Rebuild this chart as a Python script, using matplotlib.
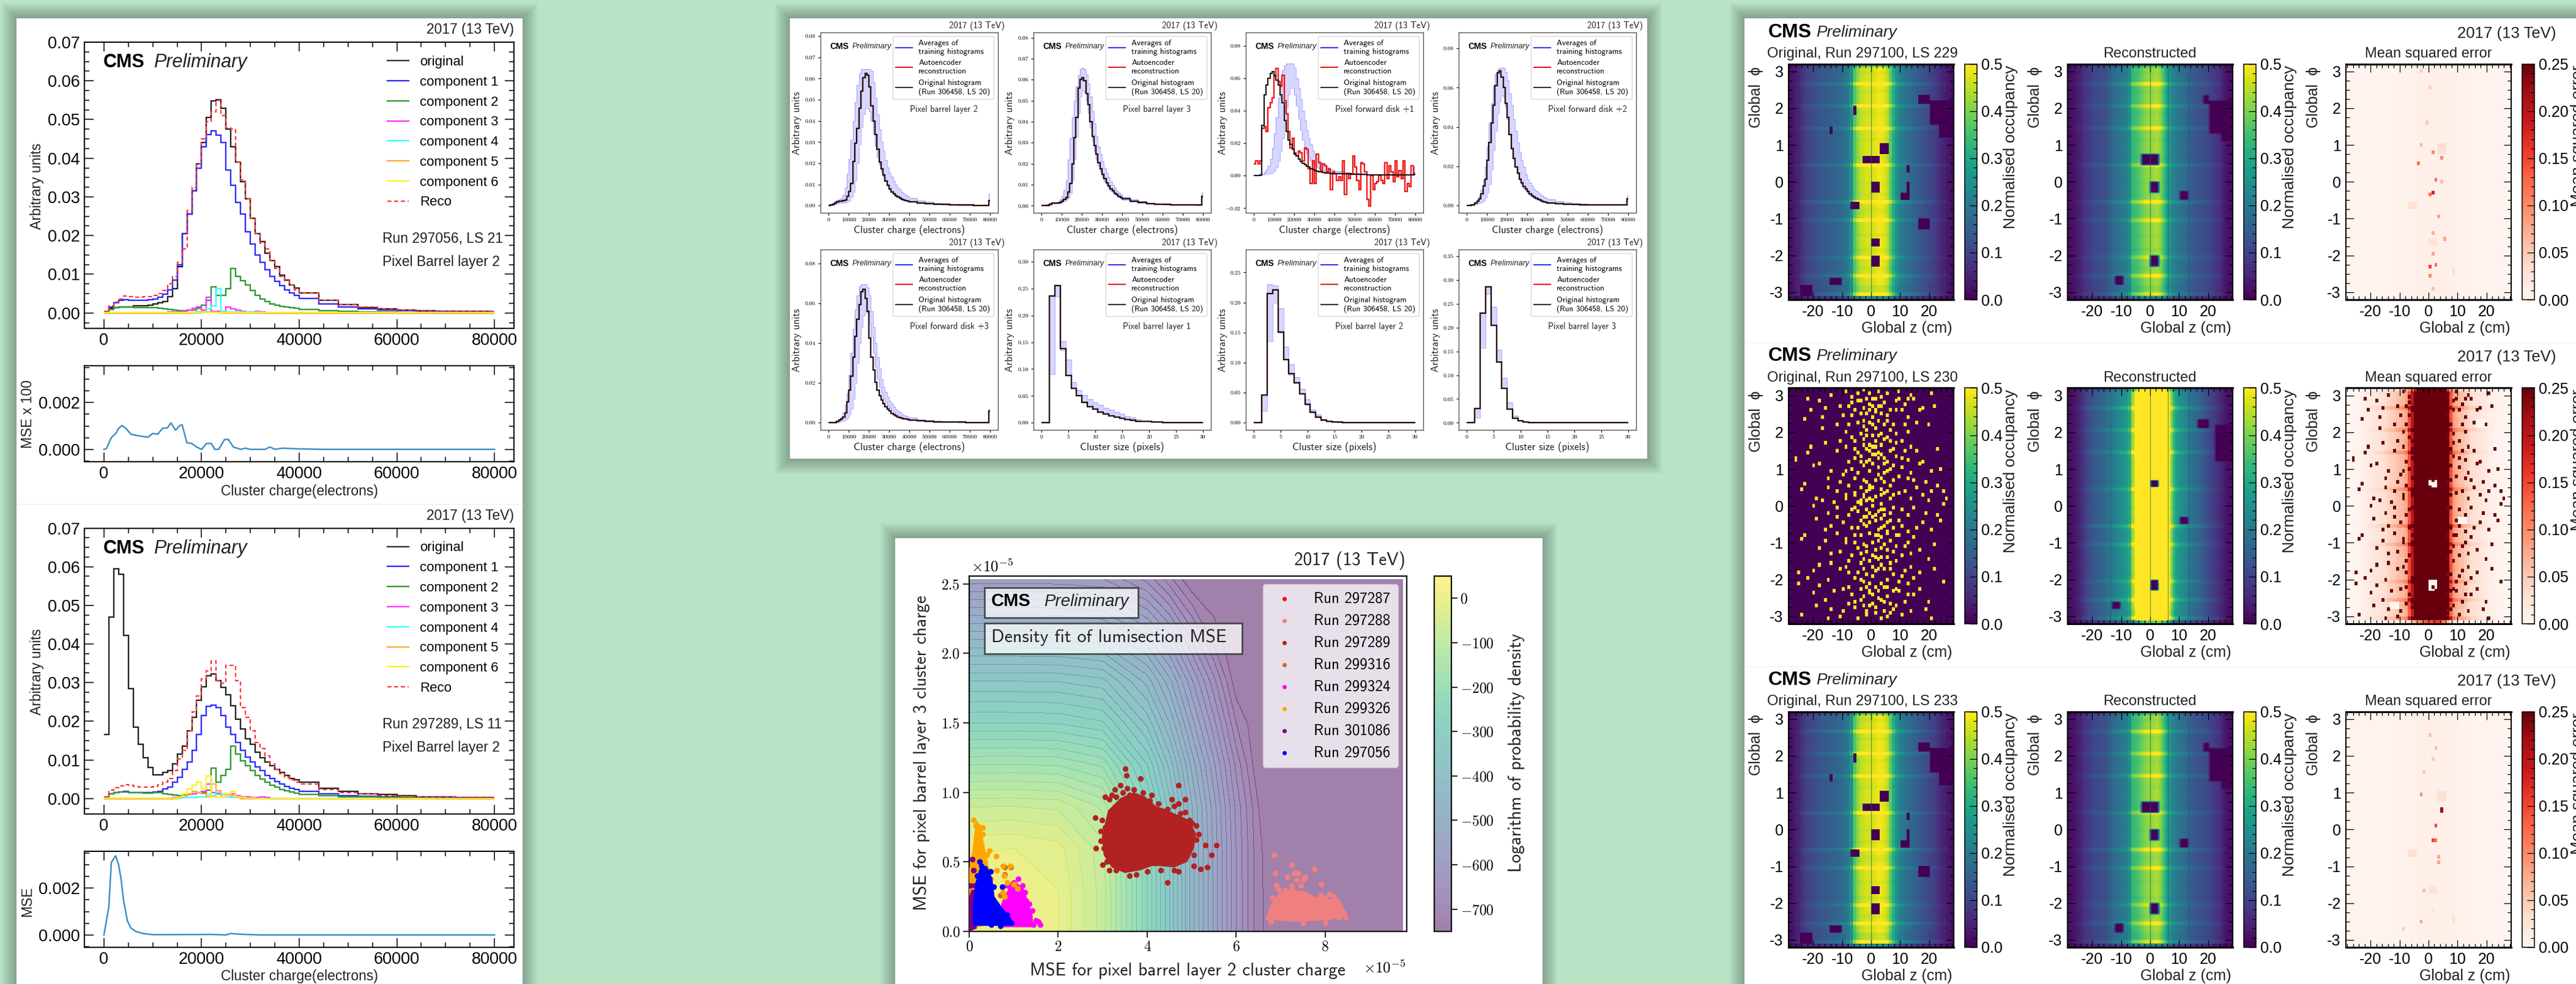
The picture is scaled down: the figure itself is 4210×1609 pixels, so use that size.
import numpy as np
import matplotlib
matplotlib.use("Agg")
import matplotlib.pyplot as plt
from matplotlib.lines import Line2D
from matplotlib.patches import Rectangle
from matplotlib.ticker import MultipleLocator

plt.rcParams['font.family'] = ['Liberation Sans', 'DejaVu Sans']
plt.rcParams['mathtext.fontset'] = 'cm'

W, H = 4210, 1609

# ---------- histogram bins ----------
q_edges = list(range(0, 40000, 1000)) + list(range(40000, 80000, 4000)) + [79500, 80000]
noisy_edges = list(range(0, 81000, 1000))
size_edges = [0] + [k + 0.5 for k in range(1, 30)] + [30]


def pad(vals, n=51):
    return vals + [0] * (n - len(vals))


# ---------- left panels, run 297056 LS 21 ----------
a_orig = [.0003, .0012, .0014, .0015, .0015, .0016, .0018, .0018, .0018, .002, .0023, .0026, .003, .0042, .0062, .012, .0205, .0255, .0315, .0385,
          .044, .0505, .0548, .0552, .053, .0475, .043, .039, .034, .0295, .0245, .0205, .0185, .0155, .0135, .012, .0098, .0085, .0073, .0065,
          .0052, .0032, .0021, .0014, .001, .0008, .0006, .0005, .0004, .0004, .0003]
a_reco = [.0004, .0018, .0028, .0036, .0044, .0042, .0041, .0041, .0042, .0043, .0045, .005, .0058, .0075, .0095, .013, .0165, .0265, .0325, .0385,
          .045, .0495, .052, .055, .051, .0478, .0475, .039, .0345, .0295, .0245, .0205, .018, .0165, .0135, .0115, .0095, .0083, .0073, .006,
          .0052, .0032, .0022, .0015, .001, .0008, .0006, .0005, .0004, .0004, .0003]
a_c1 = [.0002, .0015, .0027, .0033, .0035, .0033, .0032, .0032, .0033, .0035, .0036, .004, .0048, .006, .0085, .0125, .0205, .0255, .0315, .0375,
        .043, .0462, .047, .046, .044, .037, .033, .0285, .0255, .021, .0178, .015, .013, .0112, .0095, .0082, .007, .006, .0052, .0045,
        .0038, .0024, .0016, .0011, .0008, .0006, .0005, .0004, .0003, .0003, .0002]
a_c2 = [.0001, .0009, .0013, .0015, .0016, .0015, .0014, .0014, .0014, .0013, .0013, .0012, .001, .0009, .0008, .0006, .0006, .0007, .0008, .0012,
        .002, .0032, .0068, .0045, .0045, .0063, .0115, .0095, .0083, .0072, .0058, .0045, .0036, .003, .0024, .002, .0017, .0015, .0013, .0012,
        .0009, .0006, .0004, .0003, .0002, .0001, .0001, 0, 0, 0, 0]
a_c3 = pad([0] * 13 + [.0002, .0002, .0003, .0005, .0007, .0012, .0015, .0008, .004, .0005, .0005, .0003, .0015, .001, .0008, .0005, .0003, .0003, .0004, .0003])
a_c4 = pad([0] * 20 + [.0002, .001, .0018, .0062, .0005, .0003, .0002, .0003, .0003, .0002, .0002, .0002])
a_c5 = pad([0] * 18 + [.0001, .0002, .0002, .0002, .0002, .0001])
a_c6 = [.0001] * 51
a_mse_x = [0, 500, 1500, 2500, 3000, 3700, 4500, 5500, 6500, 8000, 9000, 10000, 11000, 12000, 13000, 13700, 14700, 15500, 16000, 17000, 18000, 19000,
           20000, 21000, 22000, 22700, 23500, 24700, 25500, 26500, 28000, 29000, 30000, 33000, 34000, 35000, 36500, 40000, 45000, 80000]
a_mse_y = [0, .00003, .0005, .0007, .0009, .00102, .0009, .00065, .0006, .00055, .00052, .00068, .00065, .0009, .00092, .00113, .00082, .00102, .00105, .00028, .00025, .0001,
           0, .00025, .00025, 0, 0, .00042, .00042, .0001, 0, .00005, 0, 0, .0001, 0, .00005, .00002, 0, 0]

# ---------- left panels, run 297289 LS 11 ----------
b_orig = [.0165, .047, .0595, .058, .0422, .0285, .0185, .014, .0105, .008, .0062, .0062, .0067, .0072, .009, .0115, .0135, .0175, .021, .0255,
          .029, .0318, .0322, .0305, .0288, .0268, .024, .0205, .018, .0155, .014, .012, .0105, .0095, .0085, .0075, .0067, .006, .0052, .0048,
          .0042, .0026, .0018, .0012, .001, .0007, .0005, .0004, .0003, .0003, .0002]
b_reco = [.0005, .0022, .0028, .0033, .0036, .0034, .0032, .003, .003, .003, .0032, .0036, .0043, .0052, .0073, .0102, .0125, .0175, .0225, .0265,
          .031, .033, .0355, .0305, .0298, .0345, .0345, .0305, .0235, .021, .0175, .0145, .013, .011, .009, .0075, .0065, .0055, .0048, .0042,
          .0037, .0024, .0016, .0012, .0008, .0006, .0005, .0004, .0003, .0003, .0002]
b_c1 = [.0002, .0013, .0016, .0017, .0018, .0016, .0015, .0015, .0015, .0016, .0017, .0019, .0025, .003, .0042, .0055, .0075, .0095, .0125, .0165,
        .0215, .0238, .0242, .0235, .0215, .0185, .0165, .0145, .0125, .0108, .0095, .0082, .0072, .006, .0052, .0044, .0038, .0032, .0027, .0024,
        .0018, .0012, .0008, .0006, .0004, .0003, .0002, .0002, .0001, .0001, .0001]
b_c2 = [.0001, .0012, .0015, .0017, .0017, .0016, .0015, .0015, .0014, .0014, .0015, .0015, .0013, .0011, .0009, .0008, .0009, .001, .0012, .0015,
        .0016, .0022, .0078, .0042, .006, .0075, .0135, .0115, .0098, .0085, .0072, .006, .005, .0042, .0035, .003, .0024, .002, .0017, .0014,
        .001, .0007, .0005, .0004, .0003, .0002, .0001, 0, 0, 0, 0]
b_c3 = pad([0] * 14 + [.0002, .0004, .0007, .001, .0012, .0015, .0018, .0038, .0015, .0012, .0005, .001, .0012, .0008, .0005, .0004, .0003, .0003, .0004, .0003])
b_c4 = pad([0] * 14 + [.0001, .0001, .0002, .0002, .0002, .0005, .0005, .001, .0008, .0015, .001, .0005, .0003, .0002])
b_c5 = pad([0] * 15 + [.0003, .0008, .0013, .0018, .0016, .0012, .0005, .0038, .002, .0005, .0012, .0008, .0003])
b_c6 = pad([.0001] * 15 + [.0005, .0012, .0025, .0035, .0042, .0025, .0058, .0005, .0003, .0005, .0012, .0018, .0004, .0002, .0001, .0001])
b_mse_x = [0, 1000, 1500, 2400, 3000, 3500, 4000, 4800, 5500, 6500, 8000, 10000, 22000, 25000, 26000, 27000, 29000, 32000, 80000]
b_mse_y = [0, .0012, .0031, .00339, .003, .0024, .0015, .0006, .0003, .00015, .00006, .00001, .00002, 0, .00006, .00004, .00002, 0, 0]

component_colors = ['#2b2bff', '#2e9a2e', '#ff33ff', '#33ffff', '#ffaa33', '#ffee22']

# ---------- top middle, cluster charge ----------
l2_orig = [0, .0003, .0007, .0012, .0018, .002, .0021, .0024, .0028, .0045, .0068, .0105, .021, .0295, .0365, .046, .054, .0605, .0625, .0615,
           .056, .047, .04, .0335, .0265, .0205, .0175, .0145, .0115, .0095, .008, .0065, .0055, .0048, .004, .0035, .003, .0026, .0023, .002,
           .0018, .0012, .0009, .0007, .0005, .0004, .0003, .0003, .0002, .0002, .0025]
l2_high = [0, .0006, .0012, .002, .0026, .003, .0035, .005, .0085, .015, .022, .031, .04, .049, .057, .0625, .0645, .0645, .0645, .0645,
           .0645, .0635, .058, .051, .043, .036, .03, .026, .0215, .018, .0155, .0135, .0115, .0098, .0085, .0075, .0065, .0057, .005, .0044,
           .0036, .0025, .0017, .0012, .0009, .0007, .0005, .0004, .0003, .0003, .0055]
l2_low = [0, .0001, .0004, .0007, .001, .0012, .0012, .0012, .0014, .0018, .0025, .004, .0065, .012, .02, .029, .037, .043, .046, .046,
          .0445, .04, .034, .028, .023, .019, .016, .0135, .0115, .0095, .0082, .007, .006, .0052, .0045, .004, .0035, .003, .0027, .0024,
          .0018, .0012, .0008, .0006, .0004, .0003, .0002, .0002, .0001, .0001, .002]

l3_orig = [0, 0, 0, .0002, .0007, .0012, .0012, .0012, .0014, .0016, .002, .003, .004, .0065, .0105, .02, .0325, .042, .056, .06,
           .061, .0595, .0535, .048, .04, .033, .0285, .0245, .0205, .0175, .015, .013, .011, .0095, .008, .007, .006, .0052, .0045, .004,
           .0032, .0022, .0015, .0011, .0008, .0006, .0005, .0004, .0003, .0003, .0045]
l3_high = [0, .0003, .0006, .001, .0014, .0014, .0014, .0015, .002, .003, .0045, .0075, .012, .022, .032, .042, .05, .057, .062, .065,
           .0655, .065, .0625, .058, .052, .045, .039, .033, .028, .0245, .021, .018, .0155, .0135, .0115, .0098, .0085, .0072, .0062, .0054,
           .0043, .0029, .002, .0014, .001, .0008, .0006, .0005, .0004, .0003, .0062]
l3_low = [0, 0, 0, .0002, .0005, .001, .001, .001, .0012, .0014, .0017, .002, .0026, .0035, .006, .012, .022, .033, .044, .052,
          .055, .054, .05, .044, .037, .031, .026, .022, .019, .016, .0135, .0115, .0098, .0084, .0072, .0062, .0054, .0047, .004, .0035,
          .0028, .0019, .0013, .0009, .0007, .0005, .0004, .0003, .0003, .0002, .0035]

d1_orig = [0, 0, 0, .0003, .031, .05, .056, .06, .063, .064, .062, .059, .056, .05, .045, .034, .027, .022, .019, .016,
           .013, .012, .01, .0085, .0075, .0065, .0055, .005, .0042, .0035, .003, .0025, .0022, .002, .0018, .0015, .0014, .0013, .0012, .0012,
           .0012, .0009, .0007, .0005, .0004, .0003, .0003, .0002, .0002, .0002, .0005]
d1_high = [0, 0, 0, 0, .001, .002, .0035, .006, .01, .017, .026, .036, .048, .058, .065, .068, .069, .069, .069, .069,
           .0665, .06, .054, .047, .04, .034, .028, .023, .019, .0155, .0125, .0105, .009, .0078, .0068, .0058, .005, .0044, .0038, .0033,
           .0027, .0018, .0013, .0009, .0007, .0005, .0004, .0003, .0003, .0002, .005]
d1_low = [0, 0, 0, 0, .0003, .0006, .0008, .001, .0012, .0018, .0028, .005, .009, .015, .023, .032, .042, .05, .054, .054,
          .05, .043, .035, .028, .022, .0175, .0135, .011, .0088, .007, .0058, .005, .004, .0034, .0029, .0025, .0021, .0018, .0016, .0014,
          .0011, .0008, .0006, .0004, .0003, .0002, .0002, .0001, .0001, .0001, .002]
d1_reco = [.007, .009, .007, .009, .029, .03, .027, .042, .045, .048, .061, .066, .058, .055, .062, .046, .038, .027, .017, .023,
           .014, .012, .015, .014, .009, .017, .016, .004, -.005, .009, -.005, .013, .008, .003, .007, .006, .002, .004, -.009, .002,
           .001, -.003, -.001, -.003, .009, -.012, .001, -.002, .001, .012, .005, -.003, -.009, .008, .007, .002, -.015, -.019, 0, -.009,
           -.005, -.004, 0, -.003, -.005, .008, -.002, .006, .002, -.004, .009, -.001, .003, -.002, .009, -.01, -.005, -.007, .006, .001]

d2_orig = [0, 0, .0002, .0004, .0012, .002, .0035, .006, .01, .0135, .023, .032, .042, .051, .061, .0675, .0685, .0655, .06, .052,
           .045, .036, .029, .024, .0195, .0165, .0135, .0115, .0095, .0085, .0072, .006, .005, .0042, .0036, .003, .0026, .0022, .0019, .0016,
           .0013, .0009, .0007, .0005, .0004, .0003, .0002, .0002, .0002, .0002, .0035]
d2_high = [0, 0, .0002, .0004, .0015, .003, .005, .008, .013, .02, .03, .042, .052, .061, .067, .0695, .07, .07, .07, .068,
           .064, .057, .051, .044, .038, .032, .027, .023, .0195, .016, .0135, .0115, .0098, .0085, .0075, .0065, .0056, .0048, .0042, .0037,
           .003, .002, .0014, .001, .0008, .0006, .0005, .0004, .0003, .0003, .005]
d2_low = [0, 0, 0, .0002, .0006, .0008, .0012, .0016, .0025, .004, .0065, .011, .018, .028, .038, .047, .053, .056, .055, .05,
          .044, .036, .03, .024, .0195, .016, .013, .0105, .0088, .0074, .0062, .0052, .0044, .0037, .0032, .0028, .0024, .0021, .0018, .0016,
          .0012, .0009, .0006, .0004, .0003, .0002, .0002, .0002, .0001, .0001, .002]

d3_orig = [0, 0, 0, 0, .0008, .0012, .0018, .003, .005, .0105, .0165, .0235, .033, .0435, .052, .0595, .066, .067, .0625, .056,
           .0425, .033, .0265, .0205, .0165, .0135, .0115, .0095, .008, .007, .0058, .0048, .0042, .0036, .003, .0026, .0023, .002, .0018, .0016,
           .0013, .0009, .0007, .0005, .0004, .0003, .0003, .0002, .0002, .0002, .006]
d3_high = [0, 0, 0, .0002, .001, .0018, .003, .005, .009, .015, .024, .035, .047, .057, .064, .0685, .0695, .0695, .0695, .068,
           .064, .056, .048, .04, .033, .027, .022, .018, .0155, .013, .011, .0095, .008, .007, .006, .0052, .0045, .0039, .0034, .003,
           .0025, .0017, .0012, .0009, .0007, .0005, .0004, .0003, .0003, .0002, .007]
d3_low = [0, 0, 0, 0, .0002, .0004, .0006, .001, .0015, .0022, .004, .007, .012, .02, .03, .04, .048, .054, .056, .055,
          .05, .043, .035, .028, .022, .018, .015, .0125, .0105, .0088, .0074, .0062, .0052, .0044, .0038, .0032, .0028, .0024, .0021, .0018,
          .0014, .001, .0007, .0005, .0004, .0003, .0002, .0002, .0001, .0001, .0045]

# ---------- top middle, cluster size (k = 1..30) ----------
s1_orig = pad([0, .236, .256, .138, .088, .064, .05, .038, .03, .025, .02, .016, .013, .01, .008, .006, .005, .003, .002, .002, .001, .001], 30)
s1_high = pad([0, .236, .256, .152, .118, .075, .061, .052, .044, .038, .033, .028, .024, .02, .016, .012, .009, .006, .004, .003, .002, .001], 30)
s1_low = pad([0, .09, .235, .135, .088, .064, .05, .04, .033, .027, .022, .018, .014, .011, .008, .006, .004, .003, .002, .002, .001, .001], 30)
s2_orig = pad([0, .046, .215, .221, .151, .105, .082, .066, .048, .031, .017, .009, .004, .002, .001, .001], 30)
s2_high = pad([0, .047, .23, .228, .19, .126, .097, .075, .056, .039, .022, .013, .006, .003, .002, .001], 30)
s2_low = pad([0, .02, .135, .2, .15, .105, .08, .068, .048, .03, .016, .008, .004, .002, .001], 30)
s3_orig = pad([0, .03, .231, .286, .205, .128, .073, .029, .009, .004, .002, .001, .001], 30)
s3_high = pad([0, .03, .231, .286, .243, .153, .094, .043, .015, .006, .003, .001, .001], 30)
s3_low = pad([0, .011, .157, .27, .205, .128, .073, .029, .009, .004, .002, .001], 30)

# ---------- bottom middle, density fit ----------
fit_x = [0, 1, 2, 3, 4, 4.5, 5, 5.5, 6, 6.5, 7, 9.74]
fit_y = [0, .3, .6, .9, 1.2, 1.5, 1.8, 2.1, 2.53]
fit_logp = [[5, 15, -10, -80, -250, -350, -460, -555, -650, -725, -750, -750],
            [5, 20, -10, -80, -250, -350, -460, -555, -650, -725, -750, -750],
            [-14, -10, -22, -84, -252, -351, -461, -556, -651, -726, -750, -750],
            [-71, -70, -75, -115, -265, -361, -468, -562, -656, -730, -750, -750],
            [-171, -170, -172, -195, -310, -396, -496, -586, -676, -749, -750, -750],
            [-270, -270, -272, -287, -376, -450, -541, -624, -710, -750, -750, -750],
            [-350, -350, -351, -363, -438, -503, -586, -664, -745, -750, -750, -750],
            [-450, -450, -451, -460, -522, -578, -652, -718, -750, -750, -750, -750],
            [-600, -600, -601, -608, -656, -702, -750, -750, -750, -750, -750, -750]]

run_names = ['Run 297287', 'Run 297288', 'Run 297289', 'Run 299316', 'Run 299324', 'Run 299326', 'Run 301086', 'Run 297056']
run_colors = ['red', 'lightcoral', 'firebrick', 'chocolate', 'magenta', 'orange', 'purple', 'blue']
# dense middle of each cloud as an outline, loose points on their own
run_core = [[],
            [(6.7, .12), (6.85, .08), (7.3, .07), (8.1, .08), (8.4, .11), (8.45, .15), (8.3, .24), (8.15, .23), (7.75, .25), (7.55, .29), (7.2, .3), (6.95, .27), (6.75, .18)],
            [(2.98, .68), (3.02, .55), (3.2, .46), (3.5, .42), (3.85, .44), (4.1, .47), (4.3, .47), (4.6, .46), (4.9, .5), (5.05, .6), (5.1, .7), (4.95, .8), (4.6, .85), (4.4, .88), (4.2, .9), (3.95, .97), (3.7, 1.0), (3.4, .96), (3.12, .87)],
            [],
            [(.65, .03), (1.45, .03), (1.42, .12), (1.32, .22), (1.22, .31), (1.1, .34), (.9, .32), (.72, .2)],
            [(0, .02), (.5, .05), (.47, .35), (.42, .5), (.32, .65), (.27, .76), (.15, .8), (.08, .6), (0, .45)],
            [(0, 0), (.17, .02), (.17, .3), (.05, .3), (0, .25)],
            [(.08, .04), (.92, .04), (.95, .09), (.72, .18), (.57, .25), (.52, .38), (.4, .47), (.25, .47), (.14, .35), (.08, .2)]]
run_points = [[(1.0, .32), (1.05, .33), (1.1, .3), (1.15, .25), (1.03, .28)],
              [(6.85, .55), (7.25, .48), (7.75, .45), (6.88, .42), (7.15, .39), (7.3, .42), (7.4, .42), (7.55, .39), (7.5, .37), (7.35, .37), (7.25, .33), (7.45, .33), (6.9, .33), (6.95, .3), (7.1, .3), (7.25, .3), (7.9, .34), (6.8, .24), (8.1, .27), (8.2, .25), (7.9, .26), (8.0, .24),
               (6.72, .1), (8.42, .13), (8.3, .1), (7.0, .26), (7.4, .26), (7.65, .24), (6.78, .07), (7.5, .06), (8.0, .06), (8.45, .1), (6.85, .2)],
              [(3.5, 1.17), (3.53, 1.12), (3.85, 1.1), (3.4, 1.05), (3.27, 1.02), (3.55, 1.03), (3.7, 1.02), (3.3, .97), (3.15, .95), (3.05, .97), (3.2, .98), (2.83, .82), (2.85, .6), (2.95, .65), (3.0, .48), (3.15, .44), (3.6, .4), (3.75, .41), (4.0, .43), (4.45, .35), (4.7, .43), (5.05, .47), (5.2, .45), (5.35, .46), (5.45, .55), (5.55, .62), (5.3, .62), (5.1, .66), (5.1, .76), (4.95, .8), (4.85, .95), (4.85, .86), (4.7, .92), (4.55, .95), (4.7, 1.05), (4.1, .98),
               (3.05, .75), (3.02, .6), (3.9, 1.0), (4.25, .92), (4.45, .88), (4.75, .85), (5.0, .78), (5.05, .55), (4.6, .44), (4.3, .44), (3.3, .44), (3.1, .5), (2.95, .72), (2.98, .8), (3.6, .98), (3.45, 1.0), (4.05, .94), (4.6, .9), (5.15, .7)],
              [(.8, .46), (.93, .46), (.8, .41), (.9, .34), (.7, .26), (.8, .22)],
              [(1.1, .38), (1.25, .28), (1.35, .2), (1.55, .07), (1.6, .05), (1.5, .08), (1.28, .22), (.85, .33), (.72, .14), (1.42, .15), (1.2, .33), (1.0, .35), (1.45, .05)],
              [(.1, .8), (.15, .76), (.25, .74), (.3, .75), (.45, .58), (.4, .55), (.6, .54), (.62, .44), (.75, .47), (.92, .47), (.78, .4), (.85, .35), (1.0, .34), (.8, .25), (.75, .28), (1.08, .31), (.3, .7), (.2, .65), (.4, .45), (.48, .38)],
              [(.07, .52), (.1, .44), (.03, .33), (.12, .33)],
              [(.24, .5), (.27, .47), (.4, .42), (.45, .38), (.55, .32), (.74, .32), (.6, .2), (.95, .06), (.85, .12), (.48, .43), (.18, .4), (.12, .1), (.5, .05), (.7, .04)]]

# ---------- right, occupancy maps (1 cm columns) ----------
orig_profile = [.02, .03, .04, .05, .07, .09, .10, .11, .12, .12, .13, .14, .14, .15, .15, .16, .16, .17, .18, .19, .21, .30, .37, .42, .45, .46, .47, .47,
                .47, .48, .49, .49, .48, .45, .38, .31, .26, .23, .21, .19, .18, .17, .16, .15, .14, .13, .12, .11, .10, .09, .08, .06, .05, .04, .03, .02]
reco_profile = [.02, .02, .03, .04, .05, .07, .08, .09, .10, .11, .11, .12, .12, .13, .16, .17, .18, .19, .20, .21, .22, .32, .34, .35, .37, .39, .41, .42,
                .42, .43, .44, .41, .36, .30, .26, .23, .21, .20, .19, .18, .17, .15, .14, .13, .13, .12, .12, .11, .10, .09, .08, .07, .05, .03, .02, .02]
reco230_profile = [.02, .02, .03, .04, .06, .08, .10, .12, .13, .14, .15, .16, .17, .18, .2, .21, .22, .24, .25, .26, .28, .38, .45, .55, .62, .68, .72, .75,
                   .75, .78, .8, .78, .72, .62, .5, .38, .3, .27, .25, .24, .22, .2, .18, .17, .16, .15, .13, .12, .1, .09, .08, .06, .05, .03, .02, .02]
mse_profile = [.002, .002, .002, .002, .003, .003, .003, .003, .003, .004, .004, .005, .007, .008, .008, .008, .008, .007, .005, .004, .004, .003, .003, .003, .002, .002, .002, .002]
phi_gain = [.5, 1.15, .95, .95, 1, 1, 1.2, 1, .98, 1, 1, 1.15, 1, .97, 1, 1, 1, .98, 1, 1, 1, 1.18, 1, .98, .98, 1, 1.22, 1, .98, 1, 1, .98,
            1, 1, 1, 1, 1.18, 1, .98, 1, 1, 1, 1, .98, 1, 1, 1.2, 1, 1, 1, .98, 1, 1.18, 1, 1, 1, .98, 1, 1.22, 1, 1, .98, 1, .8]
dead_orig = [(-3.5, 3.1, .48, .72), (3.1, 6.6, .75, 1.03), (-.4, 3.1, -.28, -.02), (9.9, 13.2, -.52, -.29), (-7, -3.7, -.77, -.56), (16.7, 20, -1.28, -1.02),
             (-.4, 3.1, -1.77, -1.57), (-.4, 3.1, -2.29, -2.02), (-13.9, -10.6, -2.81, -2.59), (-24, -20.7, -3.08, -2.82), (16.7, 20, 2.1, 2.35),
             (20, 28.5, 1.56, 2.18), (23.7, 28.5, 1.2, 1.56), (-13.9, -13, 1.28, 1.5), (12.7, 13.6, .24, .45), (12.3, 13.2, -.28, -.02), (-6, -5.3, 1.79, 2.07)]
dead_reco = [(-3.5, 3.2, .47, .73), (0, 3, -.3, -.02), (10.5, 13, -.5, -.25), (0, 3, -2.3, -2), (-12.5, -9.5, -2.8, -2.55), (18, 20.5, 2.1, 2.35), (20.5, 28.5, 1.3, 2.2), (24, 28.5, 1.1, 1.3)]
dead_reco230 = [(0, 3.1, .48, .72), (-.4, 3.1, -2.29, -2.02), (-13, -10.6, -2.81, -2.59), (10, 13.2, -.52, -.29), (16.7, 20, 2.1, 2.35), (22, 28.5, 1.2, 2.2)]
module_lines_orig = [-6.7, 0]
module_lines_reco = [-13.8, -6.9, 0, 6.2, 13.2]

ls230_hits = [(-9, 3.05), (-5, 3.0), (-3, 3.08), (-1, 2.98), (2, 3.05), (5, 3.02), (9, 3.05), (13, 2.95), (20, 3.0), (-22, 2.85), (-18, 2.78), (-7, 2.9), (-4, 2.82), (0, 2.85), (3, 2.88), (8, 2.8), (11, 2.72), (14, 2.85),
              (-16, 2.6), (-8, 2.65), (-6, 2.55), (-3, 2.62), (-1, 2.7), (1, 2.55), (3, 2.65), (10, 2.55), (17, 2.6), (21, 2.65), (-10, 2.42), (-7, 2.38), (-2, 2.45), (0, 2.35), (1, 2.48), (5, 2.4), (12, 2.35), (-23, 2.32),
              (-12, 2.15), (-5, 2.18), (-3, 2.1), (-1, 2.22), (1, 2.05), (2, 2.25), (4, 2.15), (6, 2.0), (15, 2.2), (-17, 2.05), (-9, 1.95), (-4, 1.9), (-2, 1.98), (0, 1.85), (3, 1.92), (5, 1.82), (8, 1.9), (12, 1.95), (-7, 1.8),
              (-11, 1.72), (-6, 1.68), (-3, 1.75), (-1, 1.62), (1, 1.7), (3, 1.6), (6, 1.68), (10, 1.72), (-21, 1.55), (-6, 1.52), (-2, 1.48), (0, 1.55), (2, 1.42), (7, 1.5), (11, 1.45), (22, 1.5), (-26, 1.25), (-22, 1.38),
              (-4, 1.3), (-1, 1.22), (1, 1.35), (4, 1.25), (8, 1.32), (12, 1.2), (-18, 1.1), (-8, 1.15), (-3, 1.05), (0, 1.12), (2, 1.0), (4, 1.08), (6, .95), (10, 1.02), (16, 1.1), (-14, .92), (-9, .88), (-1, .9), (2, .82), (3, .72), (5, .92), (13, .85), (20, .9),
              (-15, .68), (-11, .62), (-6, .7), (-2, .58), (4, .6), (7, .65), (12, .7), (18, .62), (-23, .55), (-8, .5), (-4, .45), (-1, .52), (3, .42), (6, .5), (15, .45), (22, .52), (-12, .35), (-6, .32), (-3, .25), (-1, .38), (1, .22), (4, .3), (9, .28), (17, .25), (24, .35),
              (-17, .12), (-9, .15), (-5, .05), (-3, .18), (-2, .08), (0, .12), (3, .02), (6, .14), (19, .1), (-20, -.05), (-12, -.08), (-6, -.12), (-4, -.02), (-2, -.15), (0, -.05), (2, -.18), (7, -.1), (14, -.12), (24, -.02),
              (-15, -.25), (-8, -.3), (-5, -.22), (-3, -.35), (1, -.28), (4, -.32), (6, -.25), (12, -.3), (22, -.28), (-19, -.42), (-10, -.48), (-4, -.45), (-1, -.52), (3, -.42), (5, -.5), (9, -.45), (17, -.5), (-14, -.62), (-7, -.65), (-2, -.6), (2, -.68), (4, -.58), (10, -.62), (20, -.7),
              (-12, -.82), (-6, -.85), (-1, -.8), (3, -.9), (5, -.78), (8, -.85), (14, -.88), (-24, -.95), (-16, -1.02), (-9, -1.05), (-3, -1.1), (2, -1.0), (4, -1.08), (6, -.98), (12, -1.05), (21, -1.1),
              (-18, -1.2), (-11, -1.28), (-5, -1.22), (-2, -1.3), (1, -1.25), (3, -1.18), (7, -1.3), (16, -1.25), (-7, -1.42), (-3, -1.48), (0, -1.4), (2, -1.52), (5, -1.45), (10, -1.42), (19, -1.5),
              (-14, -1.62), (-9, -1.68), (-4, -1.6), (0, -1.72), (3, -1.65), (6, -1.58), (13, -1.7), (-25, -1.85), (-20, -1.78), (-8, -1.85), (-2, -1.9), (1, -1.82), (7, -1.88), (11, -1.8), (-22, -2.0), (-15, -2.05), (-6, -2.02), (-3, -2.1), (5, -2.05), (9, -2.12), (14, -2.0), (24, -2.1),
              (-18, -2.22), (-10, -2.3), (-4, -2.28), (-1, -2.35), (4, -2.25), (8, -2.32), (16, -2.28), (-20, -2.42), (-7, -2.45), (-3, -2.5), (-1, -2.42), (2, -2.55), (5, -2.48), (12, -2.45), (-16, -2.62), (-8, -2.68), (-4, -2.6), (0, -2.7), (3, -2.62), (6, -2.68), (19, -2.65),
              (-14, -2.85), (-6, -2.82), (-2, -2.9), (1, -2.8), (4, -2.88), (7, -2.85), (13, -2.9), (-24, -3.0), (-11, -3.05), (-5, -3.08), (-2, -3.02), (3, -3.1), (5, -3.05), (10, -3.02), (20, -3.08),
              (-26, 1.18), (-25, -2.13), (-24, .4), (-23, -.87), (-21, 2.57), (-20, 1.03), (-19, -2.77), (-19, .13), (-18, -1.63), (-17, 2.33), (-16, -.68), (-16, 1.63), (-15, -3.12), (-15, .47), (-14, 2.93), (-14, -1.33),
              (-13, .03), (-13, -2.33), (-12, 1.47), (-12, -.37), (-11, 2.63), (-11, -1.77), (-10, .78), (-10, -2.88), (-9, 1.57), (-9, -.97), (-9, .27), (-8, 2.17), (-8, -1.53), (-8, -2.23), (-7, .97), (-7, -.17), (-7, 2.73),
              (-6, 1.23), (-6, -1.07), (-6, -2.63), (-6, .23), (-5, 2.78), (-5, 1.42), (-5, -.63), (-5, -1.83), (-5, .83), (-4, 2.43), (-4, 1.13), (-4, -1.33), (-4, -2.03), (-4, .08), (-4, -.83), (-3, 2.23), (-3, 1.58), (-3, -.57),
              (-3, -1.73), (-3, -2.73), (-3, .63), (-2, 2.83), (-2, 1.83), (-2, 1.13), (-2, -.33), (-2, -1.13), (-2, -2.27), (-2, .33), (-1, 2.53), (-1, 1.43), (-1, -.27), (-1, -1.57), (-1, -2.13), (-1, -2.77), (-1, .13),
              (0, 2.63), (0, 2.13), (0, 1.33), (0, -.33), (0, -1.07), (0, -1.97), (0, -2.43), (0, .43), (1, 2.83), (1, 1.53), (1, -.43), (1, -.83), (1, -1.43), (1, -2.23), (1, -2.97), (1, .63), (2, 2.63), (2, 1.83), (2, 1.23), (2, -.87), (2, -1.77), (2, -2.37),
              (3, 2.43), (3, 1.33), (3, -.13), (3, -.67), (3, -1.43), (3, -2.13), (3, .23), (4, 2.73), (4, 1.73), (4, -.17), (4, -1.73), (4, -2.63), (4, .83), (5, 2.23), (5, 1.13), (5, -.73), (5, -1.23), (5, -2.23), (5, .33),
              (6, 2.53), (6, 1.43), (6, -.43), (6, -1.73), (6, -2.93), (7, 2.17), (7, 1.07), (7, -.63), (7, -2.33), (7, .23), (8, 2.53), (8, 1.63), (8, -1.13), (8, -1.57), (8, -2.73), (9, 2.83), (9, .73), (9, -.87), (9, -2.33), (10, 1.23), (10, -.17), (10, -1.93),
              (11, 2.13), (11, .33), (11, -1.17), (11, -2.63), (12, 2.83), (12, -.73), (12, -2.13), (13, 1.57), (13, .13), (13, -1.37), (14, .63), (14, -2.43), (15, 1.43), (15, -.63), (16, 2.53), (16, -1.83), (17, 1.17), (18, -.23), (18, -2.83), (19, 2.13), (20, .33), (21, -1.73), (23, .93), (23, -.43), (25, .13)]

mse229_spots = [(-1.1, 1.53, .05), (-2.6, 2.94, .05), (.2, 2.5, .05), (-2.6, .97, .06), (1.1, .75, .1), (3.8, .6, .1), (-4, .45, .12), (2, .02, .12), (1.1, -.35, .18), (.2, -.38, .12),
                (4.4, -.04, .06), (3.3, -1.01, .08), (1.1, -1.47, .07), (5.1, -1.59, .08), (.7, -1.98, .08), (.2, -2.33, .15), (2, -2.32, .12), (.5, -2.59, .1), (1.1, -2.94, .06)]
mse233_spots = [(.2, 2.52, .06), (2, 2.13, .06), (1.1, 1.85, .05), (-2.2, 1.52, .05), (-2.6, .89, .1), (3.9, .5, .22), (3.9, .45, .22), (1.7, .07, .15), (1.7, .03, .15), (1.1, -.34, .15),
                (2, -.35, .12), (3.3, -.81, .08), (3.3, -.94, .08), (-2, -1.71, .06), (-2.6, -2.55, .08), (-9, -2.74, .05), (1, -2.27, .03)]
mse_patches = [(3.1, 6.6, .75, 1.03, .03), (-7, -3.7, -.77, -.56, .03), (-.4, 3.1, -1.77, -1.57, .025), (-6.2, -5.6, 1.8, 2.07, .05), (8.2, 8.7, -2.55, -2.3, .03)]

# ---------- figure and pixel layers ----------
fig = plt.figure(figsize=(W / 100, H / 100), dpi=100, facecolor='#b8e3c5')
bg = fig.add_axes([0, 0, 1, 1], zorder=-5)
bg.set_xlim(0, W)
bg.set_ylim(H, 0)
bg.axis('off')
px = fig.add_axes([0, 0, 1, 1], zorder=10)
px.set_xlim(0, W)
px.set_ylim(H, 0)
px.axis('off')


def ax_px(x0, y0, x1, y1):
    return fig.add_axes([x0 / W, 1 - y1 / H, (x1 - x0) / W, (y1 - y0) / H])


def card(x0, y0, x1, y1):
    for d in range(24, 0, -3):
        bg.add_patch(Rectangle((x0 - d, y0 - d), x1 - x0 + 2 * d, y1 - y0 + 2 * d, color='black', alpha=.035, lw=0))
    bg.add_patch(Rectangle((x0, y0), x1 - x0, y1 - y0, color='white', lw=0))


card(27, 30, 854, H + 40)
card(1291, 30, 2692, 750)
card(1463, 880, 2521, H + 40)
card(2851, 30, W + 40, H + 40)
bg.plot([27, 854], [824, 824], color='#eeeeee', lw=1)
bg.plot([2851, W], [560, 560], color='#f2f2f2', lw=1)
bg.plot([2851, W], [1090, 1090], color='#f2f2f2', lw=1)


def root_ticks(ax, labelsize, major=11, minor=5.5, pad=5):
    ax.tick_params(which='both', direction='in', top=True, right=True, width=1.1, labelsize=labelsize, pad=pad)
    ax.tick_params(which='major', length=major)
    ax.tick_params(which='minor', length=minor)
    for s in ax.spines.values():
        s.set_linewidth(1.5)


# ---------- left column ----------
def fit_panel(y_main, y_low, series, reco, mse_x, mse_y, run_text, mse_label, ys):
    ax = ax_px(138, y_main[0], 840, y_main[1])
    ax.stairs(series[0], q_edges, baseline=None, color='#222222', lw=1.7)
    for k, vals in enumerate(series[1:]):
        ax.stairs(vals, q_edges, baseline=None, color=component_colors[k], lw=1.7)
    ax.stairs(reco, q_edges, baseline=None, color='#ff3333', lw=1.6, ls=(0, (3, 2)))
    handles = [Line2D([], [], color='#333333', lw=1.7)] + [Line2D([], [], color=c, lw=1.7) for c in component_colors] + [Line2D([], [], color='#ff3333', lw=1.6, ls=(0, (3, 2)))]
    labels = ['original', 'component 1', 'component 2', 'component 3', 'component 4', 'component 5', 'component 6', 'Reco']
    ax.legend(handles, labels, loc='upper left', bbox_to_anchor=(.705, .953), frameon=False, fontsize=16, borderpad=0, borderaxespad=0,
              handlelength=1.6, handletextpad=.8, labelspacing=.53)
    ax.set_xlim(-4000, 84000)
    ax.set_ylim(-.004, .07)
    ax.set_xticks([0, 20000, 40000, 60000, 80000])
    ax.set_yticks([0, .01, .02, .03, .04, .05, .06, .07], ['0.00', '0.01', '0.02', '0.03', '0.04', '0.05', '0.06', '0.07'])
    ax.xaxis.set_minor_locator(MultipleLocator(5000))
    ax.yaxis.set_minor_locator(MultipleLocator(.0025))
    root_ticks(ax, 19.5)

    low = ax_px(138, y_low[0], 840, y_low[1])
    low.plot(mse_x, mse_y, color='#3f8fc4', lw=1.8)
    low.set_xlim(-4000, 84000)
    low.set_ylim(-.00053, .00358)
    low.set_xticks([0, 20000, 40000, 60000, 80000])
    low.set_yticks([0, .002], ['0.000', '0.002'])
    low.xaxis.set_minor_locator(MultipleLocator(5000))
    low.yaxis.set_minor_locator(MultipleLocator(.0005))
    root_ticks(low, 19.5)

    px.text(840, ys['year'], '2017 (13 TeV)', ha='right', va='center', fontsize=16.5, color='#222222')
    px.text(169, ys['cms'], 'CMS', fontweight='bold', va='center', fontsize=22)
    px.text(251, ys['cms'], 'Preliminary', style='italic', va='center', fontsize=22, color='#222222')
    px.text(625, ys['run'], run_text, va='center', fontsize=16.5, color='#222222')
    px.text(625, ys['layer'], 'Pixel Barrel layer 2', va='center', fontsize=16.5, color='#222222')
    px.text(60, ys['ylab'], 'Arbitrary units', rotation=90, ha='center', va='center', fontsize=16.5, color='#222222')
    px.text(45, ys['mse'], mse_label, rotation=90, ha='center', va='center', fontsize=16.5, color='#222222')
    px.text(489, ys['xlab'], 'Cluster charge(electrons)', ha='center', va='center', fontsize=16.5, color='#222222')


fit_panel((69, 537), (598, 755), [a_orig, a_c1, a_c2, a_c3, a_c4, a_c5, a_c6], a_reco, a_mse_x, a_mse_y, 'Run 297056, LS 21', 'MSE x 100',
          {'year': 48, 'cms': 102, 'run': 390, 'layer': 428, 'ylab': 304, 'mse': 677, 'xlab': 803})
fit_panel((863.5, 1331), (1392, 1549), [b_orig, b_c1, b_c2, b_c3, b_c4, b_c5, b_c6], b_reco, b_mse_x, b_mse_y, 'Run 297289, LS 11', 'MSE',
          {'year': 843, 'cms': 897, 'run': 1185, 'layer': 1222, 'ylab': 1098, 'mse': 1474, 'xlab': 1597})


# ---------- top middle grid ----------
def train_panel(x0, y0, edges, orig, low, high, reco_vals, reco_edges, ylim, yticks, ylabels, xticks, xlim, name, xlabel):
    ax = ax_px(x0, y0, x0 + 290, y0 + 295)
    ax.fill_between(edges, low + [low[-1]], high + [high[-1]], step='post', color='#3333ff', alpha=.2, lw=0)
    ax.stairs(high, edges, baseline=None, color='#3333ff', alpha=.35, lw=.8)
    ax.stairs(low, edges, baseline=None, color='#3333ff', alpha=.35, lw=.8)
    ax.stairs(reco_vals, reco_edges, baseline=None, color='#ee1111', lw=1.7)
    ax.stairs(orig, edges, baseline=None, color='#111111', lw=1.5)
    ax.set_xlim(xlim)
    ax.set_ylim(ylim)
    ax.set_xticks(xticks, [str(t) for t in xticks], family='cmr10', fontsize=7)
    ax.set_yticks(yticks, ylabels, family='cmr10', fontsize=7)
    ax.tick_params(length=3, width=.8, pad=2.5)
    for s in ax.spines.values():
        s.set_linewidth(1)
        s.set_color('#555555')
    handles = [Line2D([], [], color='#3333ff', lw=1.5), Line2D([], [], color='#ee1111', lw=1.5), Line2D([], [], color='#333333', lw=1.5)]
    labels = ['Averages of\ntraining histograms', 'Autoencoder\nreconstruction', 'Original histogram\n(Run 306458, LS 20)']
    ax.legend(handles, labels, loc='upper right', bbox_to_anchor=(.975, .978), prop={'family': 'cmss10', 'size': 9.6}, borderaxespad=0, framealpha=.8,
              handlelength=2.0, handletextpad=.8, labelspacing=.5, borderpad=.4)
    px.text(x0 + 301, y0 - 11, '2017 (13 TeV)', ha='right', va='center', fontsize=10.5, family='cmss10', color='#222222')
    px.text(x0 + 15, y0 + 23, 'CMS', fontweight='bold', va='center', fontsize=10)
    px.text(x0 + 52, y0 + 23, 'Preliminary', style='italic', va='center', fontsize=9.3, color='#222222')
    px.text(x0 + 146, y0 + 126, name, va='center', fontsize=10.2, family='cmss10', color='#222222')
    px.text(x0 + 145, y0 + 323, xlabel, ha='center', va='center', fontsize=12.2, family='cmss10', color='#222222')
    px.text(x0 - 38, y0 + 148, 'Arbitrary units', rotation=90, ha='center', va='center', fontsize=12.2, family='cmss10', color='#222222')


q_ticks = [0, 10000, 20000, 30000, 40000, 50000, 60000, 70000, 80000]
s_ticks = [0, 5, 10, 15, 20, 25, 30]
tick08 = ([0, .01, .02, .03, .04, .05, .06, .07, .08], ['0.00', '0.01', '0.02', '0.03', '0.04', '0.05', '0.06', '0.07', '0.08'])
tick_even = ([0, .02, .04, .06, .08], ['0.00', '0.02', '0.04', '0.06', '0.08'])
q_lim = (-4000, 84000)
s_lim = (-1.5, 31.5)
cq = 'Cluster charge (electrons)'
cs = 'Cluster size (pixels)'
train_panel(1341, 53, q_edges, l2_orig, l2_low, l2_high, l2_orig, q_edges, (-.0034, .0818), *tick08, q_ticks, q_lim, 'Pixel barrel layer 2', cq)
train_panel(1689, 53, q_edges, l3_orig, l3_low, l3_high, l3_orig, q_edges, (-.0034, .0825), *tick08, q_ticks, q_lim, 'Pixel barrel layer 3', cq)
train_panel(2036, 53, q_edges, d1_orig, d1_low, d1_high, d1_reco, noisy_edges, (-.0232, .0884), [-.02, 0, .02, .04, .06, .08],
            ['$-0.02$', '0.00', '0.02', '0.04', '0.06', '0.08'], q_ticks, q_lim, 'Pixel forward disk +1', cq)
train_panel(2384, 53, q_edges, d2_orig, d2_low, d2_high, d2_orig, q_edges, (-.0038, .0882), *tick_even, q_ticks, q_lim, 'Pixel forward disk +2', cq)
train_panel(1341, 408, q_edges, d3_orig, d3_low, d3_high, d3_orig, q_edges, (-.0036, .0871), *tick_even, q_ticks, q_lim, 'Pixel forward disk +3', cq)
train_panel(1689, 408, size_edges, s1_orig, s1_low, s1_high, s1_orig, size_edges, (-.0135, .323), [0, .05, .1, .15, .2, .25, .3],
            ['0.00', '0.05', '0.10', '0.15', '0.20', '0.25', '0.30'], s_ticks, s_lim, 'Pixel barrel layer 1', cs)
train_panel(2036, 408, size_edges, s2_orig, s2_low, s2_high, s2_orig, size_edges, (-.012, .288), [0, .05, .1, .15, .2, .25],
            ['0.00', '0.05', '0.10', '0.15', '0.20', '0.25'], s_ticks, s_lim, 'Pixel barrel layer 2', cs)
train_panel(2384, 408, size_edges, s3_orig, s3_low, s3_high, s3_orig, size_edges, (-.015, .3645), [0, .05, .1, .15, .2, .25, .3, .35],
            ['0.00', '0.05', '0.10', '0.15', '0.20', '0.25', '0.30', '0.35'], s_ticks, s_lim, 'Pixel barrel layer 3', cs)

# ---------- bottom middle density fit ----------
ax = ax_px(1584, 942, 2299, 1523)
fit = ax.contourf(fit_x, fit_y, fit_logp, levels=np.linspace(-750, 50, 41), cmap='viridis', alpha=.5)
for k, name in enumerate(run_names):
    if run_core[k]:
        ax.fill(*zip(*run_core[k]), color=run_colors[k], lw=0, zorder=3 + k)
    ax.scatter(*zip(*run_points[k]), s=45, color=run_colors[k], lw=0, zorder=3 + k, label=name)
ax.set_xlim(0, 9.83)
ax.set_ylim(0, 2.556)
ax.set_xticks([0, 2, 4, 6, 8], ['0', '2', '4', '6', '8'], family='cmr10', fontsize=17)
ax.set_yticks([0, .5, 1, 1.5, 2, 2.5], ['0.0', '0.5', '1.0', '1.5', '2.0', '2.5'], family='cmr10', fontsize=17)
ax.tick_params(length=7, width=1.2)
for s in ax.spines.values():
    s.set_linewidth(1.6)
ax.legend(loc='upper right', bbox_to_anchor=(.98, .978), prop={'family': 'cmss10', 'size': 18}, borderaxespad=0, framealpha=.75, labelspacing=.52,
          handlelength=1.8, handletextpad=1.0, borderpad=.5, scatterpoints=1, markerscale=.75)
cax = ax_px(2344, 942, 2372, 1523)
cb = fig.colorbar(fit, cax=cax)
cb.set_ticks([0, -100, -200, -300, -400, -500, -600, -700])
cb.set_ticklabels(['0', '$-100$', '$-200$', '$-300$', '$-400$', '$-500$', '$-600$', '$-700$'], fontsize=17, family='cmr10')
cax.tick_params(length=7, width=1.2)
for s in cax.spines.values():
    s.set_linewidth(1.6)

px.add_patch(Rectangle((1608.5, 960.5), 251.5, 49.5, fc='white', ec='#222222', alpha=.75, lw=2))
px.add_patch(Rectangle((1608.5, 1019), 421.5, 50, fc='white', ec='#222222', alpha=.75, lw=2))
px.text(1620, 983, 'CMS', fontweight='bold', va='center', fontsize=21)
px.text(1706, 984, 'Preliminary', style='italic', va='center', fontsize=20, color='#222222')
px.text(1620, 1042, 'Density fit of lumisection MSE', va='center', fontsize=21.5, family='cmss10', color='#222222')
px.text(2297, 917, '2017 (13 TeV)', ha='right', va='center', fontsize=21, family='cmss10', color='#222222')
px.text(1587, 926, r'$\times 10^{-5}$', va='center', fontsize=18)
px.text(2297, 1582, r'$\times 10^{-5}$', ha='right', va='center', fontsize=18)
px.text(1941, 1587, 'MSE for pixel barrel layer 2 cluster charge', ha='center', va='center', fontsize=21, family='cmss10', color='#222222')
px.text(1506, 1231, 'MSE for pixel barrel layer 3 cluster charge', rotation=90, ha='center', va='center', fontsize=21, family='cmss10', color='#222222')
px.text(2478, 1231, 'Logarithm of probability density', rotation=90, ha='center', va='center', fontsize=21, family='cmss10', color='#222222')


# ---------- right column ----------
def z_col(z):
    return int(round((z + 28.5) / 57 * 56))


def phi_row(phi):
    return int(round((phi + 3.2) / 6.4 * 128))


def occupancy(profile, dead):
    grid = np.outer(np.repeat(phi_gain, 2), profile)
    for z0, z1, p0, p1 in dead:
        grid[phi_row(p0):phi_row(p1), z_col(z0):z_col(z1)] = 0
    return grid


def hits_grid(hits):
    grid = np.zeros((128, 56))
    for z, phi in hits:
        grid[phi_row(phi):phi_row(phi) + 2, z_col(z)] = 1.6
    return grid


def mse_grid(spots):
    grid = np.outer(np.ones(128), np.repeat(mse_profile, 2))
    for z0, z1, p0, p1, val in mse_patches:
        grid[phi_row(p0):phi_row(p1), z_col(z0):z_col(z1)] = val
    for z, phi, val in spots:
        grid[phi_row(phi):phi_row(phi) + 2, z_col(z)] = val
    return grid


def heat_panel(x0, y0, y1, grid, cmap, vmax, interp, lines, cb_ticks, cb_labels, cb_minor):
    ax = ax_px(x0, y0, x0 + 270, y1)
    im = ax.imshow(grid, origin='lower', extent=(-28.5, 28.5, -3.2, 3.2), aspect='auto', cmap=cmap, vmin=0, vmax=vmax, interpolation=interp)
    for z in lines:
        ax.axvline(z, color='#1d5a6a', alpha=.6, lw=.9)
    ax.set_xticks([-20, -10, 0, 10, 20], ['-20', '-10', '0', '10', '20'])
    ax.set_yticks([-3, -2, -1, 0, 1, 2, 3], ['-3', '-2', '-1', '0', '1', '2', '3'])
    ax.xaxis.set_minor_locator(MultipleLocator(2))
    ax.yaxis.set_minor_locator(MultipleLocator(.25))
    root_ticks(ax, 18, major=9, minor=4.5, pad=6)
    ax.tick_params(width=.9, which='both')
    cax = ax_px(x0 + 288, y0, x0 + 308, y1)
    cb = fig.colorbar(im, cax=cax)
    cb.set_ticks(cb_ticks, labels=cb_labels)
    cax.yaxis.set_minor_locator(MultipleLocator(cb_minor))
    cax.tick_params(which='both', direction='in', width=.9, labelsize=18, pad=5)
    cax.tick_params(which='major', length=9)
    cax.tick_params(which='minor', length=4.5)
    for s in cax.spines.values():
        s.set_linewidth(1.1)
    for s in ('top', 'bottom'):
        ax.spines[s].set_linewidth(2.2)
    px.text(x0 + 268, y1 + 47, 'Global z (cm)', ha='right', va='center', fontsize=18, color='#222222')
    px.text(x0 - 53, y0 + 4, 'Global  ϕ', rotation=90, ha='center', va='top', fontsize=18, color='#222222')


occ_ticks = [0, .1, .2, .3, .4, .5]
occ_labels = ['0.0', '0.1', '0.2', '0.3', '0.4', '0.5']
err_ticks = [0, .05, .1, .15, .2, .25]
err_labels = ['0.00', '0.05', '0.10', '0.15', '0.20', '0.25']
col_x = [2923, 3379, 3834]
row_tops = [104.5, 634.5, 1163.7]
row_bots = [490, 1020, 1549]
ls_names = ['Original, Run 297100, LS 229', 'Original, Run 297100, LS 230', 'Original, Run 297100, LS 233']

originals = [occupancy(orig_profile, dead_orig), hits_grid(ls230_hits), occupancy(orig_profile, dead_orig)]
recos = [occupancy(reco_profile, dead_reco), occupancy(reco230_profile, dead_reco230), occupancy(reco_profile, dead_reco)]
errors = [mse_grid(mse229_spots), (originals[1] - recos[1]) ** 2, mse_grid(mse233_spots)]

for r in range(3):
    y0, y1 = row_tops[r], row_bots[r]
    lines = module_lines_orig if r != 1 else []
    heat_panel(col_x[0], y0, y1, originals[r], 'viridis', .5, 'nearest', lines, occ_ticks, occ_labels, .02)
    heat_panel(col_x[1], y0, y1, recos[r], 'viridis', .5, 'bilinear', module_lines_reco, occ_ticks, occ_labels, .02)
    heat_panel(col_x[2], y0, y1, errors[r], 'Reds', .25, 'nearest', [], err_ticks, err_labels, .01)
    px.text(2890, y0 - 52, 'CMS', fontweight='bold', va='center', fontsize=23)
    px.text(2968, y0 - 52, 'Preliminary', style='italic', va='center', fontsize=19, color='#222222')
    px.text(4178, y0 - 50, '2017 (13 TeV)', ha='right', va='center', fontsize=18.5, color='#222222')
    px.text(2888, y0 - 17, ls_names[r], va='center', fontsize=17, color='#222222')
    px.text(3513, y0 - 17, 'Reconstructed', ha='center', va='center', fontsize=17, color='#222222')
    px.text(3969, y0 - 17, 'Mean squared error', ha='center', va='center', fontsize=17, color='#222222')
    px.text(3286, y0 + 2, 'Normalised occupancy', rotation=90, ha='center', va='top', fontsize=19, color='#222222')
    px.text(3742, y0 + 2, 'Normalised occupancy', rotation=90, ha='center', va='top', fontsize=19, color='#222222')
    px.text(4213, y0 + 2, 'Mean squared error', rotation=90, ha='center', va='top', fontsize=19, color='#222222', clip_on=False)

fig.savefig('out.png', dpi=100, facecolor=fig.get_facecolor())
